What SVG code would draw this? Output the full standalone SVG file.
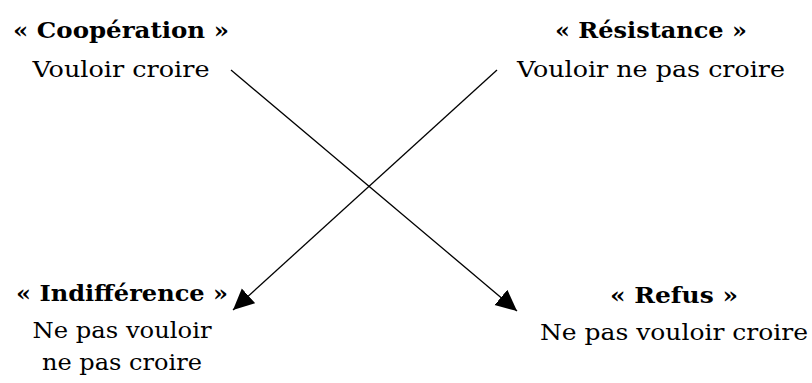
<svg xmlns="http://www.w3.org/2000/svg" width="812" height="383" viewBox="0 0 812 383">
<style>
text{font-family:"DejaVu Serif","Liberation Serif","Times New Roman",serif;font-size:23px;fill:#000;text-anchor:middle}
.t{font-weight:bold}
.c{stroke:#000;stroke-width:1.3;fill:none}
</style>
<defs>
<marker id="ah" markerUnits="userSpaceOnUse" markerWidth="24" markerHeight="22" refX="21" refY="10" orient="auto" viewBox="0 0 24 20">
<path d="M0,0 L21,10 L0,20 Z" fill="#000"/>
</marker>
</defs>
<rect width="812" height="383" fill="#fff"/>
<g id="connectors">
<line class="c" x1="231" y1="70" x2="517" y2="311" marker-end="url(#ah)"/>
<line class="c" x1="497" y1="70" x2="233" y2="310" marker-end="url(#ah)"/>
</g>
<g id="cooperation">
<text class="t" x="121" y="38" textLength="216" lengthAdjust="spacingAndGlyphs">« Coopération »</text>
<text x="121" y="77" textLength="177" lengthAdjust="spacingAndGlyphs">Vouloir croire</text>
</g>
<g id="resistance">
<text class="t" x="651" y="38" textLength="192" lengthAdjust="spacingAndGlyphs">« Résistance »</text>
<text x="651" y="77" textLength="268" lengthAdjust="spacingAndGlyphs">Vouloir ne pas croire</text>
</g>
<g id="indifference">
<text class="t" x="122" y="301" textLength="212" lengthAdjust="spacingAndGlyphs">« Indifférence »</text>
<text x="122" y="338" textLength="179" lengthAdjust="spacingAndGlyphs">Ne pas vouloir</text>
<text x="122" y="370" textLength="160" lengthAdjust="spacingAndGlyphs">ne pas croire</text>
</g>
<g id="refus">
<text class="t" x="674" y="303" textLength="128" lengthAdjust="spacingAndGlyphs">« Refus »</text>
<text x="674" y="340" textLength="268" lengthAdjust="spacingAndGlyphs">Ne pas vouloir croire</text>
</g>
</svg>
